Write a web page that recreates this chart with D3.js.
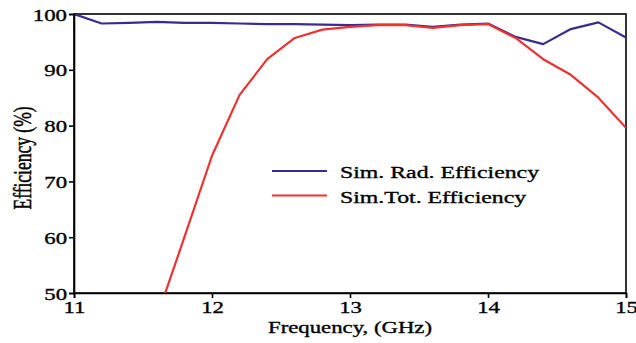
<!DOCTYPE html>
<html lang="en">
<head>
<meta charset="UTF-8">
<title>Efficiency</title>
<script src="https://d3js.org/d3.v7.min.js"></script>
<style>
  body { margin: 0; background: #fff; }
  svg text { font-family: "Liberation Serif", "Times New Roman", serif; fill: #000; stroke: #000; stroke-width: 0.35; }
  .axis path, .axis line { stroke: #000; stroke-width: 1.6; }
</style>
</head>
<body>
<div id="chart"></div>
<script>
// frequencies (GHz)
const freq = [11, 11.2, 11.4, 11.6, 11.8, 12, 12.2, 12.4, 12.6, 12.8, 13, 13.2, 13.4, 13.6, 13.8, 14, 14.2, 14.4, 14.6, 14.8, 15];
// Sim. Rad. Efficiency (%)
const radEff = [100, 98.3, 98.4, 98.6, 98.4, 98.4, 98.3, 98.2, 98.2, 98.1, 98.0, 98.1, 98.1, 97.7, 98.1, 98.3, 95.9, 94.6, 97.3, 98.5, 95.8];
// Sim.Tot. Efficiency (%)
const totEff = [null, null, null, 45.6, 60.0, 74.6, 85.5, 91.9, 95.7, 97.2, 97.7, 98.0, 98.0, 97.5, 98.0, 98.2, 95.7, 91.9, 89.1, 85.0, 79.6];
const xTicks = [11, 12, 13, 14, 15];
const yTicks = [50, 60, 70, 80, 90, 100];
const seriesNames = ["Sim. Rad. Efficiency", "Sim.Tot. Efficiency"];
const seriesColors = ["#3d2a8e", "#ec3232"];

const W = 636, H = 343;
const margin = { top: 14, right: 10, bottom: 50, left: 74 };
const width = W - margin.left - margin.right;
const height = H - margin.top - margin.bottom;
const FS = 17, SX = 1.34; // text is wide in the original

const svg = d3.select("#chart").append("svg")
  .attr("width", W).attr("height", H);

const g = svg.append("g")
  .attr("transform", `translate(${margin.left},${margin.top})`);

const x = d3.scaleLinear().domain([11, 15]).range([0, width]);
const y = d3.scaleLinear().domain([50, 100]).range([height, 0]);

g.append("defs").append("clipPath").attr("id", "clip")
  .append("rect").attr("width", width).attr("height", height);

// frame (top and right)
g.append("rect")
  .attr("width", width).attr("height", height)
  .attr("fill", "none").attr("stroke", "#000").attr("stroke-width", 1.6);

// lines
const series = [radEff, totEff];
series.forEach((vals, i) => {
  const pts = freq.map((f, j) => ({ f: f, v: vals[j] })).filter(d => d.v != null);
  g.append("path")
    .datum(pts)
    .attr("clip-path", "url(#clip)")
    .attr("fill", "none")
    .attr("stroke", seriesColors[i])
    .attr("stroke-width", 2.2)
    .attr("stroke-linejoin", "round")
    .attr("d", d3.line().x(d => x(d.f)).y(d => y(d.v)));
});

// axes
const xAxis = g.append("g")
  .attr("class", "axis")
  .attr("transform", `translate(0,${height})`)
  .call(d3.axisBottom(x).tickValues(xTicks).tickFormat(d3.format("d")).tickSizeOuter(0).tickSize(5).tickPadding(1));
xAxis.selectAll("text")
  .style("font-size", FS + "px")
  .attr("y", 20).attr("dy", null)
  .attr("transform", `scale(${SX},1)`);

const yAxis = g.append("g")
  .attr("class", "axis")
  .call(d3.axisLeft(y).tickValues(yTicks).tickSizeOuter(0).tickSize(5).tickPadding(2));
yAxis.selectAll("text")
  .style("font-size", FS + "px")
  .attr("x", -7 / SX).attr("dy", "0.36em")
  .attr("transform", `scale(${SX},1)`);
svg.selectAll(".axis").attr("font-family", null);

// axis titles
svg.append("text")
  .attr("transform", `translate(${margin.left + x(13)},333) scale(${SX},1)`)
  .attr("text-anchor", "middle")
  .style("font-size", FS + "px")
  .text("Frequency, (GHz)");

svg.append("text")
  .attr("transform", `translate(31,158) scale(1.5,1) rotate(-90)`)
  .attr("text-anchor", "middle")
  .style("font-size", "17.5px")
  .text("Efficiency (%)");

// legend
const legend = g.append("g").attr("transform", "translate(198,157)");
seriesNames.forEach((name, i) => {
  const row = legend.append("g").attr("transform", `translate(0,${i * 24.5})`);
  row.append("line")
    .attr("x1", 0).attr("x2", 55)
    .attr("stroke", seriesColors[i]).attr("stroke-width", 2.2);
  row.append("text")
    .attr("transform", `translate(68,7) scale(1.36,1)`)
    .style("font-size", "17.5px")
    .text(name);
});
</script>
</body>
</html>
